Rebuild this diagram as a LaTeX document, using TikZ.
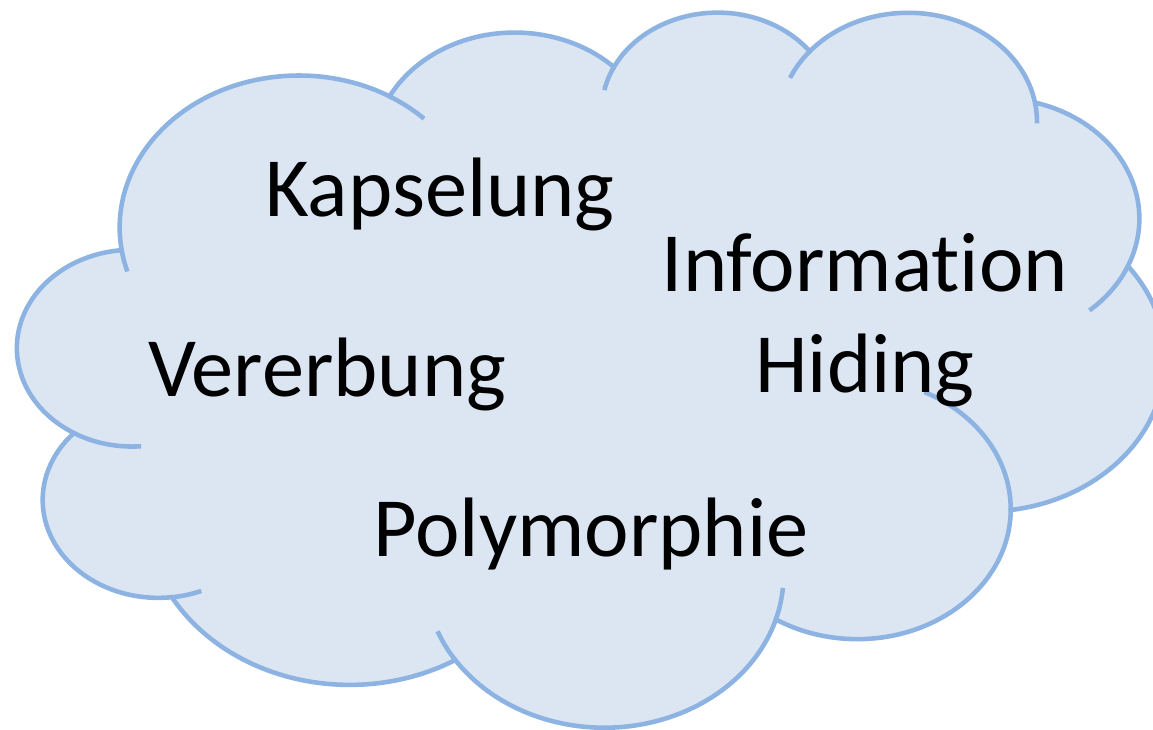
\documentclass[tikz,border=0pt]{standalone}
\usepackage{fontspec}
\setmainfont{Carlito}[Ligatures=NoCommon]
\usepackage{tikz}
\definecolor{cloudfill}{HTML}{DCE6F2}
\definecolor{cloudline}{HTML}{8DB3E2}

% one bump of the cloud: x radius, y radius, start angle, sweep (angles as seen)
\newcommand{\cloudarc}[4]{%
  arc[x radius=#1,y radius=#2,
      start angle={atan2((#1)*sin(#3),(#2)*cos(#3))},
      delta angle={mod(atan2((#1)*sin((#3)+(#4)),(#2)*cos((#3)+(#4)))-atan2((#1)*sin(#3),(#2)*cos(#3))+540,360)-180}]}

\begin{document}
\begin{tikzpicture}[x=0.02cm,y=0.02cm]
  \tikzstyle{cloud}=[fill=cloudfill,draw=cloudline,line width=2.6pt]
  \tikzstyle{crease}=[draw=cloudline,line width=2.6pt]
  \tikzstyle{term}=[font=\fontsize{48}{58}\selectfont,anchor=base,align=center,inner sep=0pt]

  \useasboundingbox (0,0) rectangle (1153,730);
  \fill[white] (0,0) rectangle (1153,730);

  \begin{scope}[shift={(17.8,719.7)},xscale=2.6547,yscale=-1.6546]
    % outline
    \path[cloud] (39.00,143.70) coordinate (p0)
      \cloudarc{67.53}{91.90}{-190.4875}{123.7805} coordinate (p1)
      \cloudarc{53.33}{72.67}{-144.1024}{89.9452} coordinate (p2)
      \cloudarc{43.65}{59.45}{-145.8079}{99.7230} coordinate (p3)
      \cloudarc{48.57}{65.95}{-130.9861}{117.2417} coordinate (p4)
      \cloudarc{53.33}{72.73}{-78.7089}{109.0269} coordinate (p5)
      \cloudarc{67.75}{92.20}{-46.2673}{130.2690} coordinate (p6)
      \cloudarc{57.85}{78.67}{0.6250}{114.0333} coordinate (p7)
      \cloudarc{67.52}{92.15}{22.4516}{115.1726} coordinate (p8)
      \cloudarc{77.20}{105.43}{66.2426}{75.7110} coordinate (p9)
      \cloudarc{43.60}{59.18}{-274.9421}{146.7356} coordinate (p10)
      \cloudarc{43.45}{59.45}{-246.8285}{152.5189} -- cycle;

    % inner strokes
    \path[crease] (p0) \cloudarc{67.53}{91.90}{169.5125}{-11.8582};
    \path[crease] (p1) \cloudarc{67.53}{91.90}{-66.7070}{12.3194};
    \path[crease] (p2) \cloudarc{43.65}{59.45}{-145.8079}{-17.6864};
    \path[crease] (p3) \cloudarc{48.57}{65.95}{-130.9861}{-18.1954};
    \path[crease] (p4) \cloudarc{48.57}{65.95}{-13.7444}{14.8589};
    \path[crease] (p5) \cloudarc{53.33}{72.73}{30.3180}{27.7515};
    \path[crease] (p6) \cloudarc{57.85}{78.67}{0.6250}{-70.9174};
    \path[crease] (p7) \cloudarc{67.52}{92.15}{22.4516}{-15.9984};
    \path[crease] (p8) \cloudarc{67.52}{92.15}{137.6242}{14.0811};
    \path[crease] (p9) \cloudarc{43.60}{59.18}{85.0579}{-11.4475};
    \path[crease] (p10) \cloudarc{43.45}{59.45}{113.1715}{-26.4295};
  \end{scope}

  \node[term] (kapselung)   at (440,513) {Kapselung};
  \node[term] (information) at (865,337) {Information\\Hiding};
  \node[term] (vererbung)   at (327,333) {Vererbung};
  \node[term] (polymorphie) at (591,173) {Polymorphie};
\end{tikzpicture}
\end{document}
